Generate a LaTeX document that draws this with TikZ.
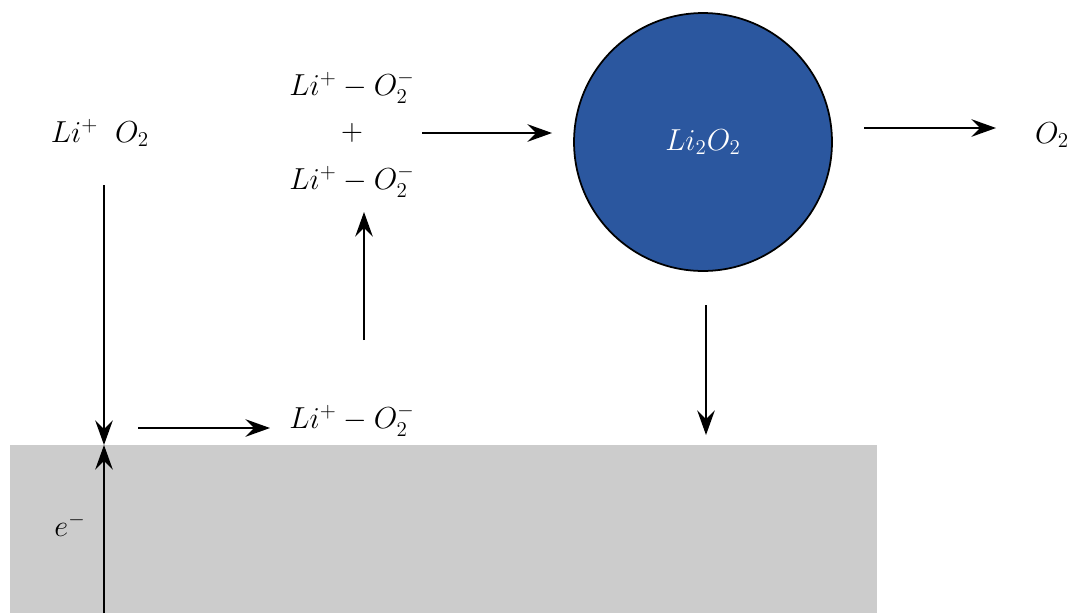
\documentclass[tikz,border=0pt]{standalone}
\usepackage{amsmath}
\usetikzlibrary{arrows.meta,positioning,calc}
\definecolor{peroxide}{HTML}{2B579F}
\definecolor{electrode}{HTML}{CCCCCC}

\begin{document}
\begin{tikzpicture}[x=0.02cm, y=-0.02cm, font=\fontsize{18}{22}\selectfont,
  >={Stealth[length=14pt,width=10pt,inset=5pt]}, line width=1.1pt,
  spec/.style={inner sep=1pt},
  flow/.style={->}]
\useasboundingbox (0,0) rectangle (1070,613);
% electrode
\fill[electrode] (10,445) rectangle (877,613);
\coordinate (surf) at (104,445);
\coordinate (bulk) at (104,613);
% species
\node[spec] (feed) at (100,133) {$Li^+\;\;O_2$};
\node[spec] (ads) at (352,420) {$Li^+-O_2^-$};
\node[spec] (top) at (352,87) {$Li^+-O_2^-$};
\node[spec] (plus) at (352,133) {$+$};
\node[spec] (bot) at (352,181) {$Li^+-O_2^-$};
\node[circle, draw, fill=peroxide, minimum size=5.16cm, text=white, line width=1pt] (li2o2) at (703,142) {$Li_2O_2$};
\node[spec] (out) at (1052,135) {$O_2$};
\node[spec] (elec) at (70,525) {$e^-$};
% arrows
\coordinate (feedend) at (104,185);
\coordinate (slideA) at (138,428);
\coordinate (slideB) at (270,428);
\coordinate (riseA) at (364,340);
\coordinate (riseB) at (364,212);
\coordinate (joinA) at (422,133);
\coordinate (joinB) at (552,133);
\coordinate (relA) at (864,128);
\coordinate (relB) at (996,128);
\coordinate (dropA) at (706,305);
\coordinate (dropB) at (706,435);
\draw[flow] (feedend) -- (surf);
\draw[flow] (bulk) -- (surf);
\draw[flow] (slideA) -- (slideB);
\draw[flow] (riseA) -- (riseB);
\draw[flow] (joinA) -- (joinB);
\draw[flow] (relA) -- (relB);
\draw[flow] (dropA) -- (dropB);
\end{tikzpicture}
\end{document}
